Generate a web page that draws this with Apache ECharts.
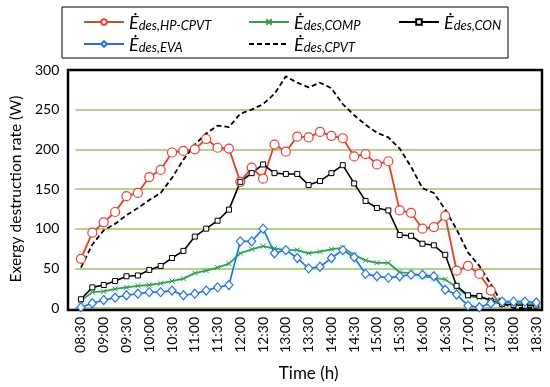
<!DOCTYPE html>
<html><head><meta charset="utf-8">
<script src="https://cdn.jsdelivr.net/npm/echarts@6/dist/echarts.min.js"></script>
<style>html,body{margin:0;padding:0;background:#fff}#c{width:550px;height:387px}</style>
</head><body><div id="c"></div>
<script>
const times = ['08:30','08:45','09:00','09:15','09:30','09:45','10:00','10:15','10:30','10:45','11:00','11:15','11:30','11:45','12:00','12:15','12:30','12:45','13:00','13:15','13:30','13:45','14:00','14:15','14:30','14:45','15:00','15:15','15:30','15:45','16:00','16:15','16:30','16:45','17:00','17:15','17:30','17:45','18:00','18:15','18:30'];
const hpCpvt = [62,95,108,121,141,145,165,174,196,198,200,213,202,201,159,177,163,206,197,216,215,222,217,214,191,194,181,185,123,120,100,102,116,47,53,43,22,0,null,null,null];
const comp = [9,20,21,24,26,28,29,31,34,37,44,47,51,56,69,74,78,75,73,73,69,71,74,76,67,60,57,57,45,44,40,38,36,26,15,13,11,9,6,5,5];
const con = [11,26,29,34,40,41,48,53,63,72,90,100,110,124,159,170,181,170,169,169,155,160,170,180,157,135,126,123,92,91,81,79,67,28,16,15,9,5,4,3,3];
const eva = [1,6,10,13,16,18,20,20,22,16,18,22,26,29,84,84,100,69,73,63,50,52,63,73,64,43,40,38,40,42,42,40,23,17,3,1,6,8,8,8,7];
const cpvt = [51,80,98,106,117,126,136,145,164,187,206,220,230,228,245,250,257,270,292,284,278,284,277,257,243,231,221,215,201,178,151,145,124,99,70,53,30,6,0,0,0];
const yTicks = [0,50,100,150,200,250,300];

const names = ['Ėdes,HP-CPVT','Ėdes,COMP','Ėdes,CON','Ėdes,EVA','Ėdes,CPVT'];
const FONT = 'Lato';
const legendText = {
  fontFamily: FONT,
  rich: {
    e: {fontFamily: FONT, fontStyle: 'italic', fontSize: 18, lineHeight: 20, color: '#000', verticalAlign: 'bottom'},
    s: {fontFamily: FONT, fontStyle: 'italic', fontSize: 13, lineHeight: 8, color: '#000', verticalAlign: 'bottom'}
  }
};
function fmt(n){ return '{e|Ė}{s|' + n.slice(1) + '}'; }
function mkLegend(data, left){
  return {data: data, left: left, top: 9, orient: 'vertical', itemGap: 4, itemWidth: 40, itemHeight: 7,
    formatter: fmt, textStyle: legendText, lineStyle: {shadowBlur: 0}, itemStyle: {shadowBlur: 0}};
}
// last HP-CPVT point drops to the axis without a visible marker
const hpData = hpCpvt.map((v, i) => (i === 37 ? {value: v, symbol: 'none'} : v));
const chart = echarts.init(document.getElementById('c'));
chart.setOption({
  animation: false,
  textStyle: {fontFamily: FONT},
  legend: [
    mkLegend([names[0], names[3]], 78),
    mkLegend([names[1], {name: names[4], itemStyle: {opacity: 0}}], 243),
    mkLegend([names[2]], 393)
  ],
  graphic: [
    {type: 'rect', z: 1, shape: {x: 62, y: 7, width: 446, height: 51}, style: {fill: 'none', stroke: '#000', lineWidth: 1}},
    {type: 'rect', z: 1, shape: {x: 68, y: 70, width: 474, height: 240}, style: {fill: 'none', stroke: '#000', lineWidth: 2.5}}
  ],
  grid: {left: 68, right: 8, top: 70, bottom: 77},
  xAxis: {
    type: 'category', data: times, boundaryGap: true,
    name: 'Time (h)', nameLocation: 'middle', nameGap: 57,
    nameTextStyle: {fontSize: 17, color: '#000', fontFamily: FONT},
    axisLine: {show: false}, axisTick: {show: false},
    axisLabel: {interval: 1, rotate: 90, fontSize: 14, color: '#000', margin: 9, fontFamily: FONT}
  },
  yAxis: {
    type: 'value', min: 0, max: 300, interval: 50,
    name: 'Exergy destruction rate (W)', nameLocation: 'middle', nameGap: 46,
    nameTextStyle: {fontSize: 15.5, color: '#000', fontFamily: FONT},
    axisLine: {show: false}, axisTick: {show: false},
    axisLabel: {fontSize: 14, color: '#000', margin: 16, fontFamily: FONT},
    splitLine: {lineStyle: {color: '#9DC16A', width: 1.5}}
  },
  series: [
    {name: names[0], type: 'line', data: hpData, symbol: 'circle', symbolSize: 9, showAllSymbol: true,
      lineStyle: {color: '#B4582F', width: 1.8, shadowColor: 'rgba(255,130,200,0.55)', shadowBlur: 7},
      itemStyle: {color: '#fff', borderColor: '#E2443A', borderWidth: 1.2}},
    {name: names[1], type: 'line', data: comp, symbol: 'path://M0,0L10,10M0,10L10,0', symbolSize: 5, showAllSymbol: true,
      lineStyle: {color: '#3F9A48', width: 1.8, shadowColor: 'rgba(110,230,240,0.6)', shadowBlur: 7},
      itemStyle: {color: '#3F9A48', borderColor: '#3F9A48', borderWidth: 1}},
    {name: names[2], type: 'line', data: con, symbol: 'rect', symbolSize: 5, showAllSymbol: true,
      lineStyle: {color: '#000', width: 1.6},
      itemStyle: {color: '#fff', borderColor: '#000', borderWidth: 1}},
    {name: names[3], type: 'line', data: eva, symbol: 'diamond', symbolSize: [8, 9], showAllSymbol: true,
      lineStyle: {color: '#2F6CCB', width: 1.6, shadowColor: 'rgba(110,230,240,0.6)', shadowBlur: 7},
      itemStyle: {color: '#fff', borderColor: '#3272D6', borderWidth: 1.2}},
    {name: names[4], type: 'line', data: cpvt, symbol: 'none', showSymbol: false,
      lineStyle: {color: '#000', width: 1.8, type: [5, 3]},
      itemStyle: {color: '#000'}}
  ]
});
</script></body></html>
